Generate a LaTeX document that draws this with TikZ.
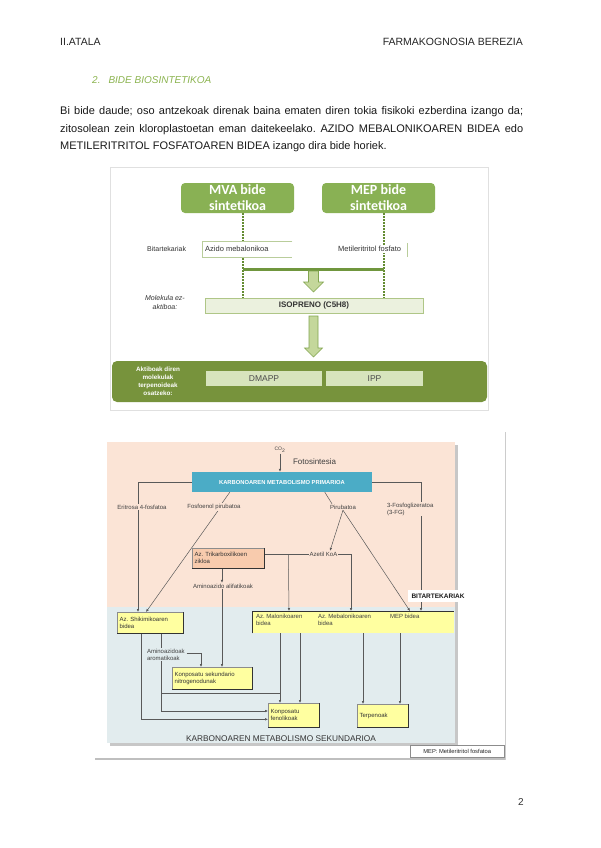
\documentclass[tikz,border=0pt]{standalone}
\usepackage{fontspec}
\setmainfont{Liberation Sans}
\newfontfamily\calfont{Carlito}
\usetikzlibrary{arrows.meta,calc}
\pgfdeclarelayer{bg}
\pgfdeclarelayer{lines}
\pgfsetlayers{bg,lines,main}
\newcommand\fsz[2]{\fontsize{#1}{#2}\selectfont}
\definecolor{titgreen}{RGB}{140,180,80}
\definecolor{mvagreen}{RGB}{137,177,84}
\definecolor{dotgreen}{RGB}{100,140,50}
\definecolor{bargreen}{RGB}{112,150,62}
\definecolor{arrfill}{RGB}{196,215,155}
\definecolor{arrdraw}{RGB}{130,165,80}
\definecolor{isofill}{RGB}{235,241,222}
\definecolor{isoborder}{RGB}{175,198,135}
\definecolor{darkgreen}{RGB}{119,147,60}
\definecolor{dmfill}{RGB}{215,228,189}
\definecolor{azb}{RGB}{185,205,155}
\definecolor{peach}{RGB}{251,228,214}
\definecolor{bluegray}{RGB}{226,236,238}
\definecolor{primblue}{RGB}{75,172,198}
\definecolor{salmon}{RGB}{248,203,173}
\definecolor{ylw}{RGB}{255,255,160}
\frenchspacing
\begin{document}
\begin{tikzpicture}[x=1pt,y=-1pt,
  d1txt/.style={inner sep=0pt,font=\fsz{7}{8},text=black!80},
  gbox/.style={fill=mvagreen,rounded corners=4pt,minimum width=113pt,minimum height=30pt,
    text=white,font=\calfont\bfseries\fsz{14}{16},align=center,inner sep=0pt},
  dotg/.style={draw=dotgreen,line width=1.6pt,dash pattern=on 1.6pt off 1.4pt},
  blockarrow/.style={fill=arrfill,draw=arrdraw,line width=0.6pt},
  t6/.style={inner sep=0.8pt,font=\fsz{6}{7},text=black!75},
  lbl/.style={t6,fill=peach},
  conn/.style={draw=black!65,line width=0.5pt},
  arr/.style={conn,-{Latex[length=3pt,width=2.6pt]}},
  ybox/.style={fill=ylw,draw=black!45,line width=0.3pt,anchor=north west,align=left,
    inner sep=2.5pt,font=\fsz{6}{7},text=black!80},
  shd/.style={draw=black!80,line width=0.9pt}
]
\begin{pgfonlayer}{bg}
  \fill[white] (0,0) rectangle (600,848);
  \draw[black!12,fill=white] (110,167) rectangle (488,410);
  \draw[black!20,line width=0.8pt] (505,432) -- (505,760);
  \fill[black!22] (109.5,444.5) rectangle (457.5,745.5);
  \fill[peach] (107,442) rectangle (455,607);
  \fill[bluegray] (107,607) rectangle (455,743);
  \draw[black!25,line width=2.5pt] (95,759) -- (505,759);
\end{pgfonlayer}
\useasboundingbox (0,0) rectangle (600,848);

% ---------- header ----------
\node[anchor=base west,inner sep=0pt,font=\fsz{10.5}{12},text=black!85] (hl) at (60,46) {II.ATALA};
\node[anchor=base east,inner sep=0pt,font=\fsz{10.5}{12},text=black!85] (hr) at (523,46) {FARMAKOGNOSIA BEREZIA};
\node[anchor=base west,inner sep=0pt,font=\itshape\fsz{10}{12},text=titgreen] (tit) at (92,83.5) {2.\hspace{8pt}BIDE BIOSINTETIKOA};

% ---------- paragraph ----------
\node[anchor=base west,inner sep=0pt,font=\fsz{11}{13},text=black!90] (p1) at (60,114)
  {\makebox[463pt][s]{Bi bide daude; oso antzekoak direnak baina ematen diren tokia fisikoki ezberdina izango da;}};
\node[anchor=base west,inner sep=0pt,font=\fsz{11}{13},text=black!90] (p2) at (60,132)
  {\makebox[463pt][s]{zitosolean zein kloroplastoetan eman daitekeelako. AZIDO MEBALONIKOAREN BIDEA edo}};
\node[anchor=base west,inner sep=0pt,font=\fsz{11}{13},text=black!90] (p3) at (60,149.5)
  {METILERITRITOL FOSFATOAREN BIDEA izango dira bide horiek.};

% ---------- diagram 1 ----------
\node[gbox] (mva) at (237.5,198) {MVA bide\\sintetikoa};
\node[gbox] (mep) at (378.5,198) {MEP bide\\sintetikoa};
\node[d1txt,anchor=west] (bitl) at (147,249) {Bitartekariak};
\node[fill=white,minimum width=90pt,minimum height=16pt,anchor=north west,inner sep=0pt] (azido) at (202,241) {};
\node[d1txt,anchor=west,font=\fsz{7.5}{8}] (azidot) at (205,249) {Azido mebalonikoa};
\draw[azb,line width=0.6pt] (azido.north east) -- (azido.north west) -- (azido.south west) -- (azido.south east);
\node[d1txt,anchor=west,fill=white,inner sep=1pt,font=\fsz{7.5}{8}] (metil) at (337,249) {Metileritritol fosfato};
\coordinate (mt1) at ($(metil.east)+(5,-6)$);
\coordinate (mt2) at ($(metil.east)+(5,8)$);
\draw[azb,line width=0.6pt] (mt1) -- (mt2);
\node[d1txt,align=center,font=\itshape\fsz{7}{9}] (molek) at (165,302.5) {Molekula ez-\\aktiboa:};
\node[fill=isofill,draw=isoborder,line width=0.6pt,minimum width=218pt,minimum height=15pt,inner sep=0pt,
  font=\bfseries\fsz{8}{9},text=black!80] (iso) at (314,305.5) {ISOPRENO (C5H8)};
\coordinate (mvad) at ($(mva.south)+(5.5,0)$);
\coordinate (mepd) at ($(mep.south)+(5.5,0)$);
\coordinate (barl) at ($(mvad)+(0,56)$);
\coordinate (barr) at ($(mepd)+(0,56)$);
\begin{pgfonlayer}{lines}
  \draw[dotg] (mvad) -- (mvad |- iso.north);
  \draw[dotg] (mepd) -- (mepd |- iso.north);
\end{pgfonlayer}
\draw[draw=bargreen,line width=2.6pt] (barl) -- (barr);
\draw[blockarrow] (308.5,271) -- (318.5,271) -- (318.5,282) -- (323.5,282) -- (313.5,292)
  -- (303.5,282) -- (308.5,282) -- cycle;
\draw[blockarrow] (309,316) -- (318,316) -- (318,348) -- (322.5,348) -- (313.5,357)
  -- (304.5,348) -- (309,348) -- cycle;
\node[fill=darkgreen,rounded corners=5pt,minimum width=375pt,minimum height=41pt,inner sep=0pt] (act) at (299.5,381.5) {};
\node[inner sep=0pt,align=center,text=white,font=\bfseries\fsz{6.3}{8}] (actt) at (158,381.5)
  {Aktiboak diren\\molekulak\\terpenoideak\\osatzeko:};
\node[fill=dmfill,minimum width=116pt,minimum height=15pt,inner sep=0pt,font=\fsz{8.5}{9},text=black!70] (dmapp) at (264,378.5) {DMAPP};
\node[fill=dmfill,minimum width=97pt,minimum height=15pt,inner sep=0pt,font=\fsz{8.5}{9},text=black!70] (ipp) at (374.5,378.5) {IPP};

% ---------- diagram 2 ----------
\node[t6,font=\fsz{5}{6}] (co2) at (280,450) {CO\textsubscript{2}};
\node[t6,anchor=west,font=\fsz{8}{9}] (foto) at (292,462) {Fotosintesia};
\node[fill=primblue,minimum width=180pt,minimum height=20pt,inner sep=0pt,text=white,
  font=\bfseries\fsz{5.8}{7}] (prim) at (282,482) {KARBONOAREN METABOLISMO PRIMARIOA};
\node[lbl] (eri) at (142,507) {Eritrosa 4-fosfatoa};
\node[lbl] (fosfo) at (214,507) {Fosfoenol pirubatoa};
\node[lbl] (piru) at (343,507) {Pirubatoa};
\node[lbl,anchor=north west,align=left] (fg) at (386,502) {3-Fosfoglizeratoa\\(3-FG)};
\node[ybox,fill=salmon,text width=67pt,minimum height=20pt] (trik) at (192,548) {Az. Trikarboxilikoen\\zikloa};
\node[lbl] (amal) at (223,586) {Aminoazido alifatikoak};
\node[lbl] (azetil) at (323.5,554) {Azetil KoA};
\node[fill=white,inner sep=4pt,font=\bfseries\fsz{6.5}{7},text=black!90] (bit) at (438,596) {BITARTEKARIAK};
\node[ybox,text width=61pt,minimum height=21pt] (shik) at (117,612) {Az. Shikimikoaren\\bidea};
\node[fill=ylw,anchor=north west,minimum width=202pt,minimum height=22pt,inner sep=0pt] (big) at (252,611) {};
\node[t6,anchor=north west,align=left] (mal) at (255,613.5) {Az. Malonikoaren\\bidea};
\node[t6,anchor=north west,align=left] (meb) at (317,613.5) {Az. Mebalonikoaren\\bidea};
\node[t6,anchor=north west,align=left] (mepb) at (389,613.5) {MEP bidea};
\node[lbl,fill=bluegray,anchor=north west,align=left] (arom) at (146,648) {Aminoazidoak\\aromatikoak};
\node[ybox,text width=75pt,minimum height=22pt] (nitro) at (172,667) {Konposatu sekundario\\nitrogenodunak};
\node[ybox,text width=46pt,minimum height=24pt] (feno) at (268,703) {Konposatu\\fenolikoak};
\node[ybox,text width=46pt,minimum height=23pt] (terp) at (357,704) {Terpenoak};
\node[t6,font=\fsz{8.3}{9},text=black!80] (sek) at (281,738.5) {KARBONOAREN METABOLISMO SEKUNDARIOA};
\node[fill=white,draw=black!45,line width=0.4pt,anchor=north west,minimum width=94pt,minimum height=12pt,
  inner sep=0pt,font=\fsz{5.8}{7},text=black!85] (leg) at (410,745) {MEP: Metileritritol fosfatoa};

% box shadows
\draw[shd] (shik.north east) -- (shik.south east) -- (shik.south west);
\draw[shd] (trik.north east) -- (trik.south east) -- (trik.south west);
\draw[shd] (nitro.north east) -- (nitro.south east) -- (nitro.south west);
\draw[shd] (feno.north east) -- (feno.south east) -- (feno.south west);
\draw[shd] (terp.north east) -- (terp.south east) -- (terp.south west);
\draw[shd] (big.south west) -- (big.north west) -- (big.north east);

% connectors
\coordinate (pf1) at ($(prim.south west)+(38,0)$);
\coordinate (pf2) at ($(fosfo.north)+(8,0)$);
\coordinate (pp1) at ($(prim.south west)+(133,0)$);
\coordinate (pp2) at ($(piru.north)+(-11,0)$);
\coordinate (fs) at ($(fosfo.south)+(4,0)$);
\coordinate (shA) at ($(shik.north west)+(21,0)$);
\coordinate (shB) at ($(shik.north west)+(29,0)$);
\coordinate (bgA) at ($(big.north west)+(37,0)$);
\coordinate (bgB) at ($(big.north west)+(99,0)$);
\coordinate (bgC) at ($(big.north west)+(158,0)$);
\coordinate (bgD) at ($(big.north west)+(169,0)$);
\coordinate (az) at ($(azetil.north)+(6.5,0)$);
\coordinate (tk) at ($(trik.south west)+(30,0)$);
\coordinate (tkr) at (trik.east |- azetil.west);
\coordinate (tkb) at ($(tkr)+(24,0)$);
\coordinate (s1) at ($(shik.south west)+(24,0)$);
\coordinate (s2) at ($(shik.south west)+(44,0)$);
\coordinate (f1) at ($(feno.south west)+(0,-8)$);
\coordinate (f2) at ($(feno.north west)+(0,8)$);
\coordinate (m1) at ($(big.south west)+(28,0)$);
\coordinate (m2) at ($(big.south west)+(48,0)$);
\coordinate (m3) at ($(big.south west)+(111,0)$);
\coordinate (m4) at ($(big.south west)+(148,0)$);
\coordinate (j) at ($(m1)+(0,60)$);
\coordinate (ae) at ($(arom.north east)+(1,5)$);
\coordinate (na) at ($(nitro.north west)+(29,0)$);
\begin{pgfonlayer}{lines}
  \draw[arr] (co2.south) -- (co2.south |- prim.north);
  \draw[arr] (prim.west) -| (shA);
  \draw[conn] (pf1) -- (pf2);
  \draw[arr] (fs) -- (shB);
  \draw[conn] (pp1) -- (pp2);
  \draw[arr] (piru.south) -- (az);
  \draw[arr] (piru.south) -- (bgC);
  \draw[arr] (prim.east) -| (bgD);
  \draw[conn] (tkr) -- (azetil.west);
  \draw[arr] (tkb) -- (bgA);
  \draw[arr] (azetil.east) -| (bgB);
  \draw[arr] (tk) -- (tk |- amal.north);
  \draw[arr] (tk |- amal.south) -- (tk |- nitro.north);
  \draw[arr] (s1) |- (f1);
  \draw[arr] (s2) |- (f2);
  \draw[conn] (s2 |- j) -- (j);
  \draw[arr] (m1) -- (m1 |- feno.north);
  \draw[arr] (m2) -- (m2 |- feno.north);
  \draw[arr] (m3) -- (m3 |- terp.north);
  \draw[arr] (m4) -- (m4 |- terp.north);
  \draw[arr] (ae) -| (na);
\end{pgfonlayer}

% page number
\node[anchor=base,inner sep=0pt,font=\fsz{10}{11},text=black!80] (pg) at (521,805) {2};
\end{tikzpicture}
\end{document}
